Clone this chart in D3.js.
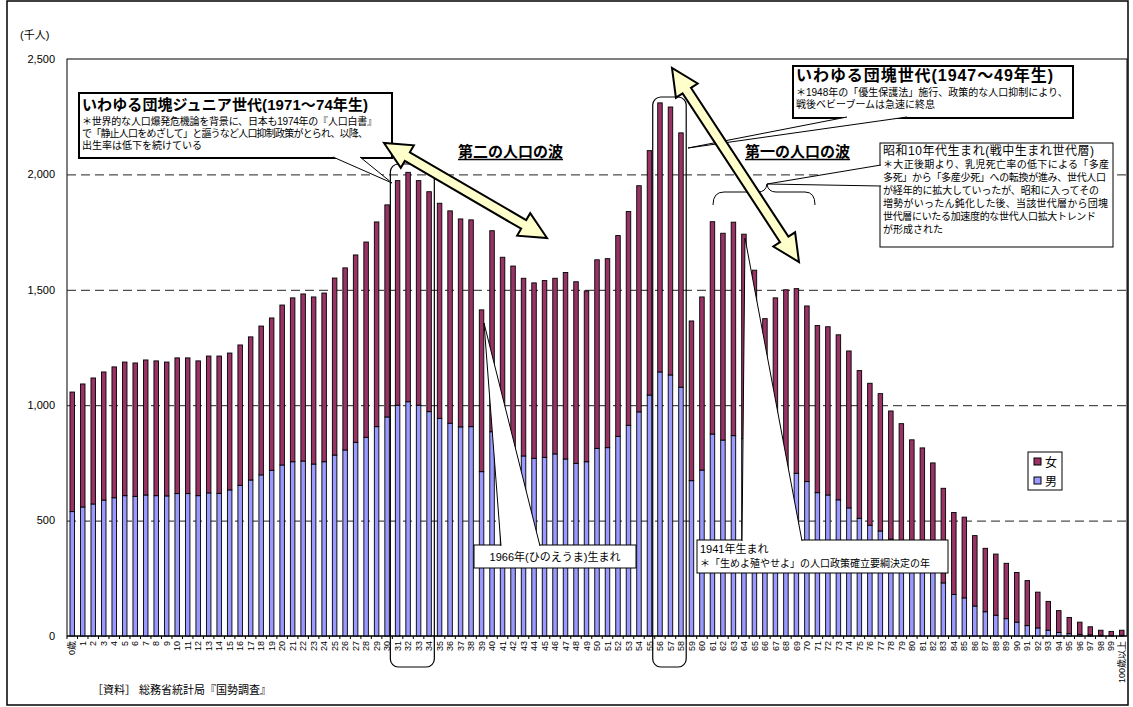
<!DOCTYPE html>
<html>
<head>
<meta charset="utf-8">
<script src="https://cdn.jsdelivr.net/npm/d3@7"></script>
<style>
body{margin:0;background:#fff}
text{font-family:"Liberation Sans","Noto Sans CJK JP",sans-serif;fill:#000}
</style>
</head>
<body>
<div id="chart"></div>
<script>
"use strict"
// age classes
var ages=["0歳"]
for(var a=1;a<100;a++) ages.push(String(a))
ages.push("100歳以上")

// male population (thousands)
var male=[539,559,572,589,599,608,605,611,608,607,
  617,617,608,620,618,633,653,676,698,718,
  741,755,758,745,755,784,806,839,861,907,
  949,1000,1015,1000,972,943,922,906,907,712,
  885,825,800,780,770,774,789,767,748,755,
  813,816,865,913,971,1044,1144,1131,1078,673,
  719,875,849,868,855,770,665,705,720,705,
  669,621,611,590,555,510,480,455,420,385,
  355,330,290,230,180,165,130,105,90,75,
  60,45,35,25,15,10,7,5,3,2,3]
// female population (thousands)
var female=[518,533,546,555,567,579,578,585,584,580,
  588,588,584,593,595,593,608,620,645,660,
  693,710,724,724,731,767,789,812,846,887,
  919,973,994,973,953,932,920,901,896,701,
  871,816,803,770,760,766,761,808,787,740,
  817,819,870,926,980,1059,1166,1161,1102,692,
  750,920,896,925,886,815,710,760,780,800,
  761,724,729,715,680,640,615,595,555,535,
  495,485,460,410,355,350,305,275,265,240,
  215,195,155,125,95,70,53,35,22,18,22]

var yTicks=[0,500,1000,1500,2000,2500]
var seriesKeys=["男","女"]
var seriesColors={"男":"#9999ff","女":"#993366"}

var W=1133,H=707
var svg=d3.select('#chart').append('svg').attr('width',W).attr('height',H)

// outer frame
svg.append('rect').attr('x',7).attr('y',1).attr('width',1121).attr('height',704)
  .attr('fill','none').attr('stroke','#000').attr('stroke-width',1.5)

var x=d3.scaleBand().domain(ages).range([67,1127]).padding(0)
var y=d3.scaleLinear().domain([0,2500]).range([636,59])
var bw=x.bandwidth()*0.43

// plot area box
svg.append('rect').attr('x',67).attr('y',y(2500)).attr('width',1060).attr('height',y(0)-y(2500))
  .attr('fill','none').attr('stroke','#000').attr('stroke-width',1)

// dashed gridlines
svg.append('g').selectAll('line').data(yTicks.filter(function(d){return d>0&&d<2500})).join('line')
  .attr('x1',67).attr('x2',1127).attr('y1',function(d){return y(d)+.5}).attr('y2',function(d){return y(d)+.5})
  .attr('stroke','#222').attr('stroke-width',1).attr('stroke-dasharray','9,5')

// y labels
svg.append('g').selectAll('text').data(yTicks).join('text')
  .attr('x',55).attr('y',function(d){return y(d)}).attr('dy','0.35em')
  .attr('text-anchor','end').attr('font-size',11).text(d3.format(','))
svg.append('text').attr('x',20).attr('y',39).attr('font-size',11).text('(千人)')

// stacked bars
var rows=ages.map(function(d,i){return {age:d,"男":male[i],"女":female[i]}})
var stack=d3.stack().keys(seriesKeys)(rows)
svg.append('g').selectAll('g').data(stack).join('g')
  .attr('fill',function(s){return seriesColors[s.key]})
  .selectAll('rect').data(function(s){return s}).join('rect')
  .attr('x',function(d){return x(d.data.age)+(x.bandwidth()-bw)/2})
  .attr('y',function(d){return y(d[1])})
  .attr('width',bw).attr('height',function(d){return y(d[0])-y(d[1])})
  .attr('stroke','#000').attr('stroke-width',0.9)

// x axis line and ticks
svg.append('line').attr('x1',67).attr('x2',1127).attr('y1',636).attr('y2',636).attr('stroke','#000')
svg.append('g').selectAll('line').data(ages).join('line')
  .attr('x1',function(d){return x(d)}).attr('x2',function(d){return x(d)})
  .attr('y1',636).attr('y2',639).attr('stroke','#000')
// x labels
svg.append('g').selectAll('text').data(ages).join('text')
  .attr('transform',function(d){return 'translate('+(x(d)+x.bandwidth()/2)+',641) rotate(-90)'})
  .attr('text-anchor','end').attr('dy','0.35em').attr('font-size',9).text(function(d){return d})

// rounded rects around generations
function groupRect(a0,a1,top){
  svg.append('rect').attr('x',x(a0)-2).attr('y',top).attr('width',x(a1)+x.bandwidth()-x(a0)+2)
    .attr('height',667-top).attr('rx',8).attr('fill','none').attr('stroke','#000').attr('stroke-width',1.2)
}
groupRect("31","34",164)
groupRect("56","58",97)

// legend
var lg=svg.append('g')
lg.append('rect').attr('x',1028).attr('y',452).attr('width',34).attr('height',38)
  .attr('fill','#fff').attr('stroke','#000')
;["女","男"].forEach(function(k,i){
  lg.append('rect').attr('x',1034).attr('y',458+i*19).attr('width',7).attr('height',7)
    .attr('fill',seriesColors[k]).attr('stroke','#000')
  lg.append('text').attr('x',1045).attr('y',462+i*19).attr('dy','0.38em').attr('font-size',12).text(k)
})

// callout helper: box + wedge + lines
function callout(box,wedge,sw,lines){
  var pts=wedge.map(function(p){return p.join(',')}).join(' ')
  svg.append('rect').attr('x',box[0]).attr('y',box[1]).attr('width',box[2]-box[0]).attr('height',box[3]-box[1])
    .attr('fill','#fff').attr('stroke','#000').attr('stroke-width',sw)
  svg.append('polygon').attr('points',pts).attr('fill','#fff').attr('stroke','none')
  svg.append('line').attr('x1',wedge[0][0]).attr('y1',wedge[0][1]).attr('x2',wedge[2][0]).attr('y2',wedge[2][1]).attr('stroke','#000')
  svg.append('line').attr('x1',wedge[1][0]).attr('y1',wedge[1][1]).attr('x2',wedge[2][0]).attr('y2',wedge[2][1]).attr('stroke','#000')
  lines.forEach(function(l){
    var t=svg.append('text').attr('x',l.x).attr('y',l.y).attr('font-size',l.size)
      .attr('font-weight',l.bold?'bold':null).text(l.t)
    if(l.anchor) t.attr('text-anchor',l.anchor)
    if(l.len) t.attr('textLength',l.len).attr('lengthAdjust','spacing')
  })
}

callout([79,93,392,158],[[333,157],[360,157],[392,183]],2,[
  {x:82,y:110,size:15,bold:true,t:'いわゆる団塊ジュニア世代(1971～74年生)',len:286},
  {x:82,y:125,size:10,t:'＊世界的な人口爆発危機論を背景に、日本も1974年の『人口白書』',len:295},
  {x:82,y:137,size:10,t:'で「静止人口をめざして」と謳うなど人口抑制政策がとられ、以降、',len:286},
  {x:82,y:149,size:10,t:'出生率は低下を続けている'}
])
callout([793,66,1073,118],[[847,117],[907,117],[688,148]],2,[
  {x:796,y:81,size:16,bold:true,t:'いわゆる団塊世代(1947～49年生)',len:257},
  {x:796,y:96,size:10,t:'＊1948年の「優生保護法」施行、政策的な人口抑制により、'},
  {x:796,y:108,size:10,t:'戦後ベビーブームは急速に終息'}
])
callout([880,143,1113,247],[[881,165],[881,186],[767,184]],1,[
  {x:883,y:155,size:12,t:'昭和10年代生まれ(戦中生まれ世代層)',len:211},
  {x:883,y:168,size:10,t:'＊大正後期より、乳児死亡率の低下による「多産',len:226},
  {x:883,y:181,size:10,t:'多死」から「多産少死」への転換が進み、世代人口',len:223},
  {x:883,y:194,size:10,t:'が経年的に拡大していったが、昭和に入ってその',len:216},
  {x:883,y:207,size:10,t:'増勢がいったん鈍化した後、当該世代層から団塊',len:225},
  {x:883,y:220,size:10,t:'世代層にいたる加速度的な世代人口拡大トレンド',len:213},
  {x:883,y:233,size:10,t:'が形成された'}
])
callout([474,545,636,568],[[501,546],[540,546],[484,323]],1,[
  {x:555,y:561,size:11,anchor:'middle',t:'1966年(ひのえうま)生まれ'}
])
callout([697,540,948,573],[[742,541],[802,541],[745,238]],1,[
  {x:700,y:553,size:11,t:'1941年生まれ'},
  {x:700,y:567,size:10,t:'＊「生めよ殖やせよ」の人口政策確立要綱決定の年'}
])

// brace over the wartime generation
svg.append('path')
  .attr('d','M713,205 Q713,192 724,192 L758,192 Q766,192 767,184 Q768,192 776,192 L805,192 Q815,192 815,205')
  .attr('fill','none').attr('stroke','#000').attr('stroke-width',1)

// wave titles
function waveTitle(tx,ty,t){
  var el=svg.append('text').attr('x',tx).attr('y',ty).attr('font-size',15).attr('font-weight','bold').text(t)
  var len=el.node().getComputedTextLength()
  svg.append('line').attr('x1',tx).attr('x2',tx+len).attr('y1',ty+2.5).attr('y2',ty+2.5)
    .attr('stroke','#000').attr('stroke-width',1.3)
}
waveTitle(458,157,'第二の人口の波')
waveTitle(745,157,'第一の人口の波')

// double-headed block arrows
function dblArrow(x1,y1,x2,y2){
  var dx=x2-x1,dy=y2-y1,L=Math.hypot(dx,dy),ux=dx/L,uy=dy/L,nx=-uy,ny=ux
  var hl=27,hw=13,sw=5
  var b1=[x1+ux*hl,y1+uy*hl],b2=[x2-ux*hl,y2-uy*hl]
  var pts=[[x1,y1],[b1[0]+nx*hw,b1[1]+ny*hw],[b1[0]+nx*sw,b1[1]+ny*sw],[b2[0]+nx*sw,b2[1]+ny*sw],
    [b2[0]+nx*hw,b2[1]+ny*hw],[x2,y2],[b2[0]-nx*hw,b2[1]-ny*hw],[b2[0]-nx*sw,b2[1]-ny*sw],
    [b1[0]-nx*sw,b1[1]-ny*sw],[b1[0]-nx*hw,b1[1]-ny*hw]]
  svg.append('polygon').attr('points',pts.map(function(p){return p.join(',')}).join(' '))
    .attr('fill','#ffffcc').attr('stroke','#000').attr('stroke-width',2).attr('stroke-linejoin','miter')
}
dblArrow(384,143,547,238)
dblArrow(672,68,799,262)

// source note
svg.append('text').attr('x',92).attr('y',694).attr('font-size',11).text('［資料］ 総務省統計局『国勢調査』')
</script>
</body>
</html>
